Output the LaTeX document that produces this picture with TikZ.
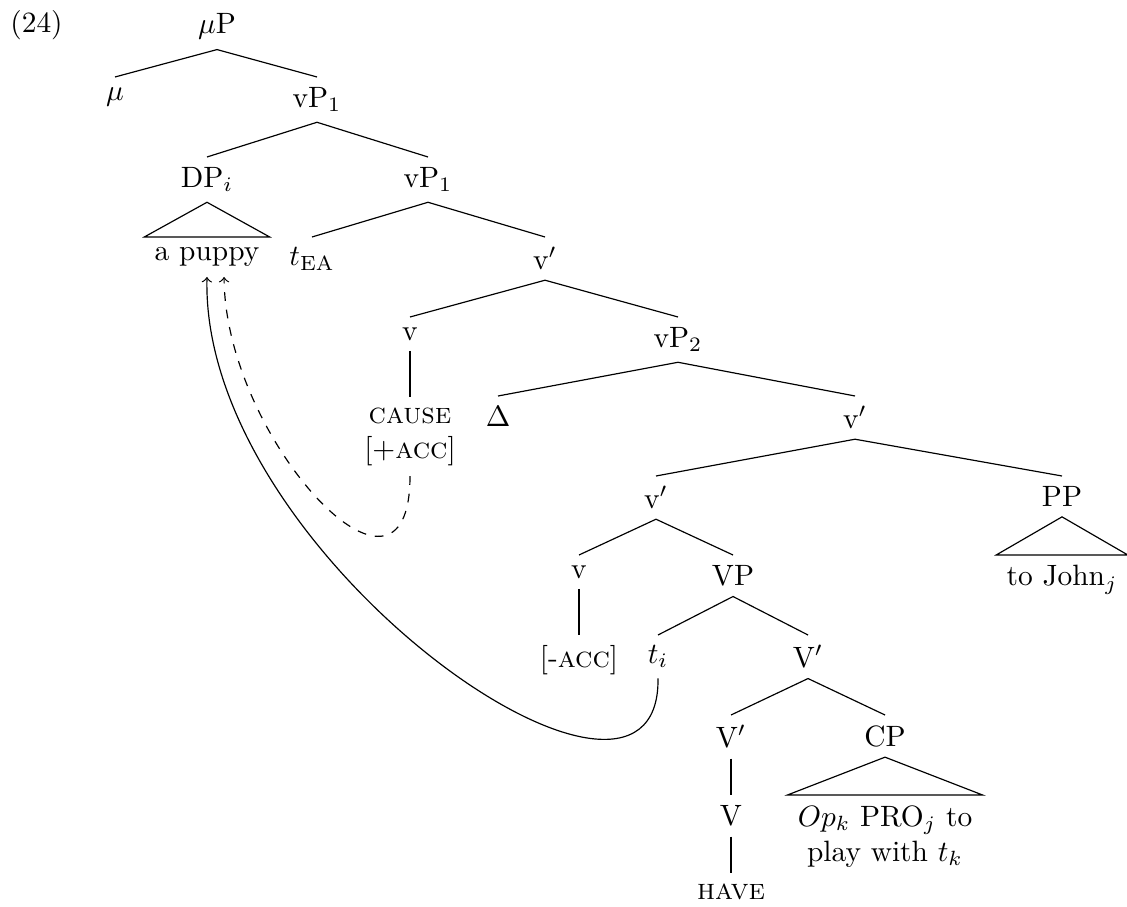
\documentclass[tikz,border=0pt]{standalone}
\usepackage{tikz}
\usepackage{amsmath}

\begin{document}
\begin{tikzpicture}[x=0.34pt, y=-0.34pt, lbl/.style={anchor=north}]

    \useasboundingbox (0,0) rectangle (1127,907);

    \node(ex)[anchor=base west] at (0,33){(24)};
    \node(muP)[lbl] at (217,3){$\mu$P};
    \node(mu)[lbl] at (115,77){$\mu$};
    \node(vPa)[lbl] at (317,77){vP$_1$};

    \node(DP)[lbl] at (207,157){DP$_i$};
    \node(vPb)[lbl] at (428,157){vP$_1$};
    \node(puppy)[lbl] at (207,237){a puppy};
    \node(tEA)[lbl] at (312,237){$t_{\text{EA}}$};
    \node(vbA)[lbl] at (545,237){v$'$};

    \node(vA)[lbl] at (410,317){v};
    \node(vPc)[lbl] at (678,317){vP$_2$};
    \node(cause)[lbl, align=center] at (410,397){\textsc{cause}\\{[}+\textsc{acc}{]}};
    \node(delta)[lbl] at (498,396){$\Delta$};
    \node(vbB)[lbl] at (855,396){v$'$};

    \node(vbC)[lbl] at (656,476){v$'$};
    \node(PP)[lbl] at (1062,476){PP};
    \node(john)[lbl] at (1062,555){to John$_j$};
    \node(vB)[lbl] at (579,555){v};
    \node(VP)[lbl] at (733,555){VP};

    \node(acc)[lbl] at (579,635){{[}-\textsc{acc}{]}};
    \node(ti)[lbl] at (658,635){$t_i$};
    \node(VbA)[lbl] at (808,635){V$'$};
    \node(VbB)[lbl] at (731,715){V$'$};
    \node(CP)[lbl] at (885,715){CP};
    \node(V)[lbl] at (731,795){V};
    \node(op)[lbl, align=center] at (885,795){$Op_k$ PRO$_j$ to\\play with $t_k$};
    \node(have)[lbl] at (731,873){\textsc{have}};

    \draw (mu.north) -- (muP.south) -- (vPa.north);
    \draw (DP.north) -- (vPa.south) -- (vPb.north);
    \draw (DP.south) -- (puppy.north west) -- (puppy.north east) -- cycle;
    \draw (tEA.north) -- (vPb.south) -- (vbA.north);
    \draw (vA.north) -- (vbA.south) -- (vPc.north);
    \draw (vA.south) -- (cause.north);
    \draw (delta.north) -- (vPc.south) -- (vbB.north);
    \draw (vbC.north) -- (vbB.south) -- (PP.north);
    \draw (PP.south) -- (john.north west) -- (john.north east) -- cycle;
    \draw (vB.north) -- (vbC.south) -- (VP.north);
    \draw (vB.south) -- (acc.north);
    \draw (ti.north) -- (VP.south) -- (VbA.north);
    \draw (VbB.north) -- (VbA.south) -- (CP.north);
    \draw (VbB.south) -- (V.north);
    \draw (V.south) -- (have.north);
    \draw (CP.south) -- (op.north west) -- (op.north east) -- cycle;

    \draw[->] (ti.south) .. controls +(3,197) and +(-7,280) .. (puppy.south);
    \draw[->, dashed] (cause.south) .. controls +(0,162) and +(1,163) .. ([xshift=5.8pt]puppy.south);

\end{tikzpicture}
\end{document}
